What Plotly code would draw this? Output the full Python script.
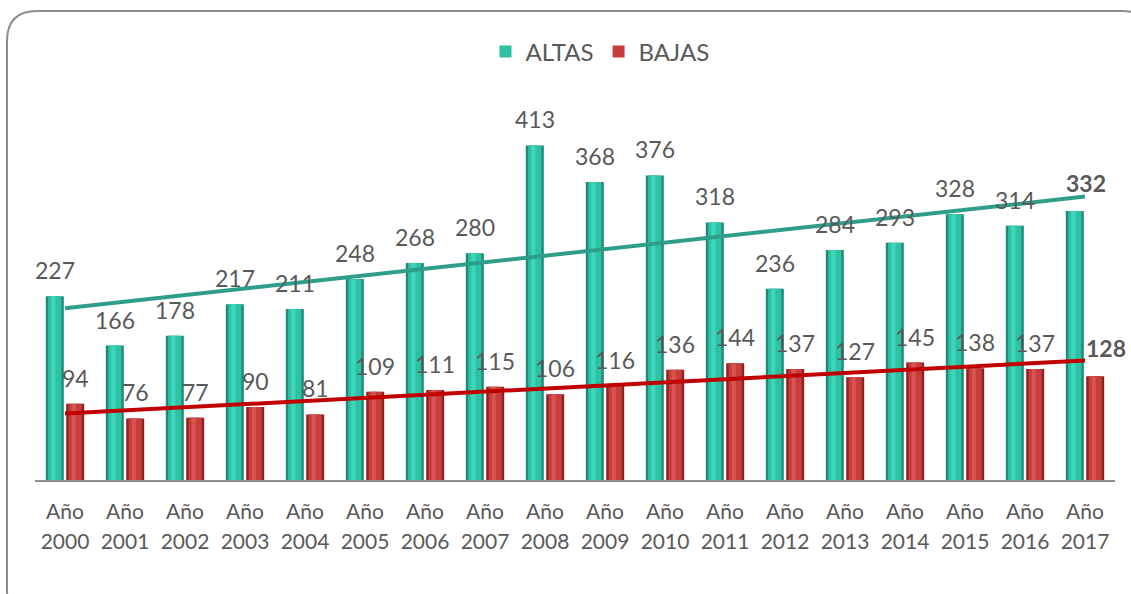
import numpy as np
import plotly.graph_objects as go

years = ["2000", "2001", "2002", "2003", "2004", "2005", "2006", "2007", "2008",
         "2009", "2010", "2011", "2012", "2013", "2014", "2015", "2016", "2017"]
tick_word = ["Año"] * len(years)
altas = [227, 166, 178, 217, 211, 248, 268, 280, 413, 368, 376, 318, 236, 284, 293, 328, 314, 332]
bajas = [94, 76, 77, 90, 81, 109, 111, 115, 106, 116, 136, 144, 137, 127, 145, 138, 137, 128]

W, H = 1131, 594
ML, MR, MT, MB = 35, 16, 75, 114
PW, PH = W - ML - MR, H - MT - MB
FONT = "Lato, 'Open Sans', sans-serif"
GRAY = "#595959"

idx = np.arange(len(years))
n = len(years)

def px_x(p):
    return (p - ML) / PW

def px_y(p):
    return (H - MB - p) / PH

fig = go.Figure()

BW = 0.30
OFF_A, OFF_B = -0.32, 0.02
series = [
    ("ALTAS", altas, OFF_A, "#1E8A76", "#2EC2A5", "#3FD6BA"),
    ("BAJAS", bajas, OFF_B, "#8E2222", "#C63D3B", "#D65452"),
]
for name, vals, off, dark, mid, light in series:
    fig.add_trace(go.Bar(x=idx, y=vals, offset=off, width=BW, marker_color=dark,
                         marker_line_width=0, showlegend=False, hoverinfo="skip",
                         legendgroup=name))
    fig.add_trace(go.Bar(x=idx, y=vals, offset=off + 0.04, width=BW - 0.08, marker_color=mid,
                         marker_line_width=0, name=name, legendgroup=name,
                         showlegend=True))
    fig.add_trace(go.Bar(x=idx, y=vals, offset=off + 0.09, width=0.07, marker_color=light,
                         marker_line_width=0, showlegend=False, hoverinfo="skip",
                         legendgroup=name))

# linear trend lines (on the overlaid axis that carries the year labels)
for vals, color in [(altas, "#2E9E8A"), (bajas, "#C00000")]:
    k, b = np.polyfit(idx, vals, 1)
    fig.add_trace(go.Scatter(x=idx, y=k * idx + b, mode="lines", xaxis="x2", yaxis="y",
                             line=dict(color=color, width=4), showlegend=False,
                             hoverinfo="skip"))

annotations = []
for vals, off in [(altas, OFF_A), (bajas, OFF_B)]:
    for i, v in enumerate(vals):
        last = i == n - 1
        annotations.append(dict(
            x=i + off + BW / 2, y=v, xref="x", yref="y",
            text=f"<b>{v}</b>" if last else str(v), showarrow=False,
            yanchor="middle", yshift=28 if last else 26, xshift=11 if last else 0,
            font=dict(family=FONT, size=23, color=GRAY)))

# rounded border
x0, y0, x1, y1, r = 7, 11, 1152, 620, 30
path = (f"M {px_x(x0)},{px_y(y0 + r)} Q {px_x(x0)},{px_y(y0)} {px_x(x0 + r)},{px_y(y0)} "
        f"L {px_x(x1 - r)},{px_y(y0)} Q {px_x(x1)},{px_y(y0)} {px_x(x1)},{px_y(y0 + r)} "
        f"L {px_x(x1)},{px_y(y1 - r)} Q {px_x(x1)},{px_y(y1)} {px_x(x1 - r)},{px_y(y1)} "
        f"L {px_x(x0 + r)},{px_y(y1)} Q {px_x(x0)},{px_y(y1)} {px_x(x0)},{px_y(y1 - r)} Z")

fig.update_layout(
    width=W, height=H,
    margin=dict(l=ML, r=MR, t=MT, b=MB, autoexpand=False),
    barmode="overlay",
    paper_bgcolor="white", plot_bgcolor="white",
    font=dict(family=FONT, size=21, color=GRAY),
    legend=dict(orientation="h", x=px_x(600), xanchor="center", y=px_y(52),
                yanchor="middle", font=dict(family=FONT, size=24, color=GRAY),
                itemwidth=30, traceorder="normal"),
    xaxis=dict(range=[-0.5, n - 0.5], tickmode="array", tickvals=idx, ticktext=tick_word,
               showgrid=False, zeroline=False, showline=True, linecolor="#8C8C8C",
               linewidth=2, ticks="", ticklabelstandoff=12,
               tickfont=dict(family=FONT, size=21, color=GRAY), fixedrange=True),
    xaxis2=dict(range=[-0.5, n - 0.5], overlaying="x", anchor="y", side="bottom",
                tickmode="array", tickvals=idx, ticktext=years, showgrid=False,
                zeroline=False, showline=False, ticks="", ticklabelstandoff=47,
                tickfont=dict(family=FONT, size=21, color=GRAY), fixedrange=True),
    yaxis=dict(range=[0, 500], visible=False, showgrid=False, fixedrange=True),
    annotations=annotations,
    shapes=[dict(type="path", path=path, xref="paper", yref="paper",
                 line=dict(color="#8C8C8C", width=2), layer="above")],
)

fig.write_html("out.html", config={"displayModeBar": False},
               post_script="document.body.style.margin='0px';")
